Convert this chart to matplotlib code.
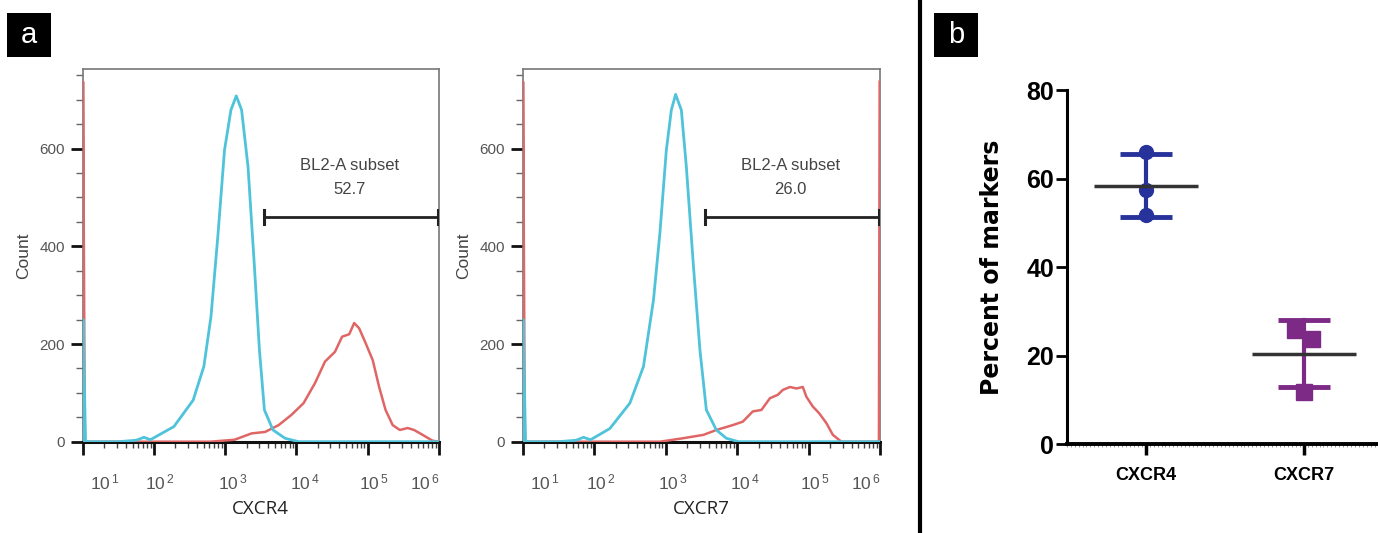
import numpy as np
import matplotlib
matplotlib.use('Agg')
import matplotlib.pyplot as plt
import matplotlib.transforms as mtransforms
from matplotlib.ticker import FixedLocator, MultipleLocator, LogLocator, NullFormatter
from matplotlib.patches import Rectangle

plt.rcParams['font.family'] = ['Liberation Sans', 'DejaVu Sans']
plt.rcParams['mathtext.fontset'] = 'custom'
plt.rcParams['mathtext.rm'] = 'Liberation Sans'
plt.rcParams['mathtext.it'] = 'Liberation Sans'

# ---- panel a: flow histograms (log10 of fluorescence, count) ----
cxcr4_blue_log = [1.005, 1.005, 1.04, 1.5, 1.75, 1.86, 1.95, 2.28, 2.55, 2.70, 2.80, 2.90, 2.99,
                  3.08, 3.155, 3.23, 3.32, 3.41, 3.48, 3.55, 3.67, 3.84, 4.03, 6.0]
cxcr4_blue_cnt = [0, 250, 0, 0, 3, 9, 4, 31, 85, 154, 256, 427, 597,
                  679, 708, 679, 563, 358, 188, 65, 24, 7, 0, 0]
cxcr4_red_log = [1.005, 1.005, 1.03, 2.0, 2.79, 3.13, 3.37, 3.56, 3.75, 3.93, 4.10, 4.26, 4.40,
                 4.54, 4.64, 4.74, 4.81, 4.88, 4.97, 5.07, 5.16, 5.25, 5.35, 5.45, 5.56,
                 5.65, 5.77, 5.91, 6.0]
cxcr4_red_cnt = [0, 737, 0, 0, 0, 4, 17, 20, 34, 55, 79, 120, 164,
                 184, 215, 220, 243, 232, 202, 167, 112, 65, 34, 24, 28,
                 24, 14, 2, 0]

cxcr7_blue_log = [1.005, 1.005, 1.04, 1.5, 1.75, 1.85, 1.95, 2.22, 2.50, 2.69, 2.83, 2.92, 3.01,
                  3.08, 3.14, 3.22, 3.29, 3.39, 3.48, 3.57, 3.71, 3.85, 4.02, 6.0]
cxcr7_blue_cnt = [0, 250, 0, 0, 3, 9, 4, 27, 79, 154, 290, 427, 597,
                  679, 711, 679, 563, 358, 188, 65, 24, 7, 0, 0]
cxcr7_red_log = [1.005, 1.005, 1.03, 2.0, 2.92, 3.24, 3.53, 3.71, 3.94, 4.08, 4.22, 4.34, 4.46,
                 4.57, 4.64, 4.74, 4.83, 4.92, 4.97, 5.06, 5.15, 5.25, 5.34, 5.46, 5.985,
                 5.995, 5.995]
cxcr7_red_cnt = [0, 737, 0, 0, 0, 7, 14, 24, 34, 41, 62, 65, 89,
                 96, 106, 112, 109, 112, 92, 72, 58, 38, 14, 0, 0,
                 737, 737]

hist_titles = ['CXCR4', 'CXCR7']
gate_start_log = [3.54, 3.55]
gate_end_log = [5.98, 5.98]
gate_level = [460, 460]
gate_pct = ['52.7', '26.0']
decade_labels = [r'$10^{\,1}$', r'$10^{\,2}$', r'$10^{\,3}$', r'$10^{\,4}$', r'$10^{\,5}$', r'$10^{\,6}$']

# ---- panel b: percent of markers ----
cats = ['CXCR4', 'CXCR7']
cxcr4_pct = [66.1, 57.4, 51.8]
cxcr7_pct = [25.8, 23.7, 11.9]
cxcr7_jitter = [-0.055, 0.055, 0.0]

blue = '#4ec3d9'
red = '#e06666'
W, H = 1378, 533

fig = plt.figure(figsize=(W / 100, H / 100), dpi=100)


def box(x0, y0, x1, y1):
    # pixel box (top-left origin) -> figure fraction
    return [x0 / W, 1 - y1 / H, (x1 - x0) / W, (y1 - y0) / H]


hist_axes = [fig.add_axes(box(82.7, 69, 439, 441.7)), fig.add_axes(box(522.7, 69, 880, 441.7))]
series = [(cxcr4_blue_log, cxcr4_blue_cnt, cxcr4_red_log, cxcr4_red_cnt),
          (cxcr7_blue_log, cxcr7_blue_cnt, cxcr7_red_log, cxcr7_red_cnt)]

for i, ax in enumerate(hist_axes):
    bl, bc, rl, rc = series[i]
    ax.plot(10 ** np.array(rl), rc, color=red, lw=1.8, zorder=3, solid_joinstyle='round')
    ax.plot(10 ** np.array(bl), bc, color=blue, lw=2.0, zorder=4, solid_joinstyle='round')
    ax.set_xscale('log')
    ax.set_xlim(10, 1e6)
    ax.set_ylim(0, 763)

    # gate bar
    x0, x1 = 10 ** gate_start_log[i], 10 ** gate_end_log[i]
    ax.plot([x0, x1], [gate_level[i]] * 2, color='#222222', lw=2.0, zorder=5)
    for xx in (x0, x1):
        ax.plot([xx, xx], [gate_level[i] - 14, gate_level[i] + 14], color='#222222', lw=2.2, zorder=5)
    xm = 10 ** 4.75
    ax.text(xm, 565, 'BL2-A subset', ha='center', va='center', fontsize=12, color='#444444')
    ax.text(xm, 517, gate_pct[i], ha='center', va='center', fontsize=12, color='#444444')

    ax.yaxis.set_major_locator(FixedLocator([0, 200, 400, 600]))
    ax.yaxis.set_minor_locator(MultipleLocator(50))
    ax.tick_params(axis='y', which='major', length=9, width=2, color='#111111',
                   labelsize=11, labelcolor='#555555', pad=4)
    ax.tick_params(axis='y', which='minor', length=5, width=1, color='#666666')
    ax.xaxis.set_minor_locator(LogLocator(base=10, subs=np.arange(2, 10), numticks=20))
    ax.xaxis.set_minor_formatter(NullFormatter())
    ax.set_xticks([1e1, 1e2, 1e3, 1e4, 1e5, 1e6])
    ax.set_xticklabels(decade_labels)
    ax.tick_params(axis='x', which='major', length=9, width=2, color='#111111',
                   labelsize=12.5, labelcolor='#555555', pad=13)
    ax.tick_params(axis='x', which='minor', length=4, width=1, color='#444444')
    labs = ax.get_xticklabels()
    offsets = [7, 6, 7, 8, 6, 0]
    for lab, off in zip(labs, offsets):
        lab.set_transform(lab.get_transform() +
                          mtransforms.ScaledTranslation(off / 100, 0, fig.dpi_scale_trans))
    labs[0].set_horizontalalignment('left')
    labs[-1].set_horizontalalignment('right')

    for s in ('top', 'right', 'left'):
        ax.spines[s].set_color('#777777')
        ax.spines[s].set_linewidth(1.2)
    ax.spines['bottom'].set_color('#111111')
    ax.spines['bottom'].set_linewidth(2.2)

    ax.set_ylabel('Count', fontsize=12.5, color='#444444', labelpad=6)
    ax.set_xlabel(hist_titles[i], fontsize=13.5, color='#222222', labelpad=6,
                  fontfamily=['Open Sans', 'DejaVu Sans'])

# ---- panel b ----
axb = fig.add_axes(box(1066.7, 90, 1378, 444.3))
axb.set_xlim(-0.5, 1.47)
axb.set_ylim(0, 80)
colors_b = ['#27339b', '#7d2a87']
groups = [cxcr4_pct, cxcr7_pct]
jit = [[0, 0, 0], cxcr7_jitter]
markers = ['o', 's']
for k, vals in enumerate(groups):
    v = np.array(vals)
    m, sd = v.mean(), v.std(ddof=1)
    xs = k + np.array(jit[k])
    axb.plot(xs, v, ls='none', marker=markers[k], ms=10 if k == 0 else 11,
             color=colors_b[k], zorder=3)
    axb.plot([k, k], [m - sd, m + sd], color=colors_b[k], lw=3, zorder=2)
    for yy in (m - sd, m + sd):
        axb.plot([k - 0.165, k + 0.165], [yy, yy], color=colors_b[k], lw=3.5, zorder=2,
                 solid_capstyle='butt')
    axb.plot([k - 0.33, k + 0.33], [m, m], color='#333333', lw=2.5, zorder=4,
             solid_capstyle='butt')

axb.set_xticks([0, 1])
axb.set_xticklabels(cats)
axb.set_yticks([0, 20, 40, 60, 80])
axb.xaxis.set_minor_locator(MultipleLocator(0.025))
for s in ('top', 'right'):
    axb.spines[s].set_visible(False)
axb.spines['left'].set_linewidth(2.2)
axb.spines['bottom'].set_linewidth(2.8)
axb.tick_params(axis='y', length=8, width=2, labelsize=18, pad=1)
axb.tick_params(axis='x', which='major', length=8, width=2.5, labelsize=13, pad=8)
axb.tick_params(axis='x', which='minor', length=2, width=0.6, color='#888888')
for lab in axb.get_yticklabels() + axb.get_xticklabels():
    lab.set_fontfamily(['Liberation Sans Narrow', 'Liberation Sans', 'DejaVu Sans'])
    lab.set_fontweight('bold')
axb.set_ylabel('Percent of markers', fontsize=17, fontweight='bold', labelpad=16,
               fontfamily=['DejaVu Sans'])

# separator and panel letters
fig.add_artist(plt.Line2D([919.5 / W, 919.5 / W], [0, 1], color='black', lw=3, transform=fig.transFigure))
for letter, x0 in (('a', 7), ('b', 934)):
    fig.add_artist(Rectangle((x0 / W, 1 - 57 / H), 44 / W, 44 / H, transform=fig.transFigure,
                             facecolor='black', edgecolor='none'))
    fig.text((x0 + 22) / W, 1 - 35 / H, letter, color='white', fontsize=21,
             ha='center', va='center')

fig.savefig('out.png', dpi=100)
